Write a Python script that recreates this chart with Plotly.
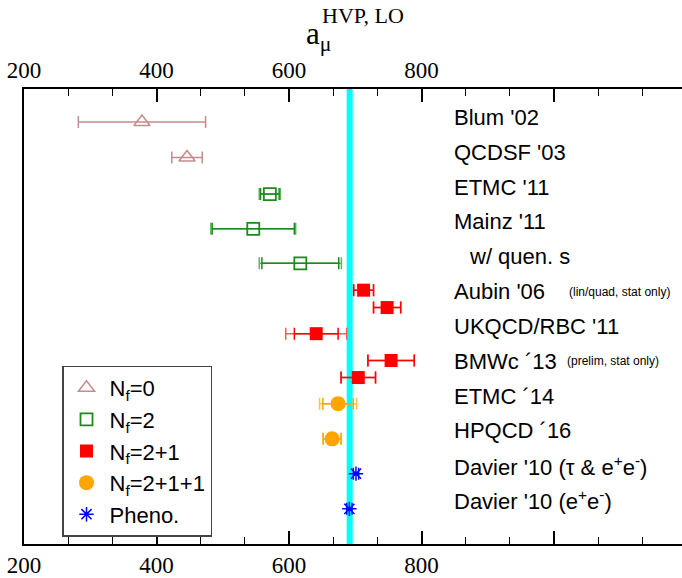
import plotly.graph_objects as go

# ---------------- data ----------------
nf0_x = [378, 446]
nf0_y = [1.13, 2.15]
nf0_err = [96, 23]

nf2_x = [571, 546, 617]
nf2_y = [3.20, 4.20, 5.19]
nf2_err_tot = [16, 64, 62]
nf2_err_stat = [14, 62, 58]

nf21_x = [712.5, 748, 641, 754, 704.5]
nf21_y = [5.96, 6.46, 7.21, 7.98, 8.47]
nf21_err_tot = [15, 20.5, 46, 35, 26]
nf21_err_stat = [15, 20.5, 33, 35, 26]

nf211_x = [674, 665]
nf211_y = [9.22, 10.23]
nf211_err_tot = [28, 13.5]
nf211_err_stat = [23, 13.5]

pheno_x = [701, 691]
pheno_y = [11.23, 12.24]
pheno_err = [4, 4]

band_lo, band_hi = 687, 696

row_labels = ["Blum '02", "QCDSF '03", "ETMC '11", "Mainz '11", "w/ quen. s",
              "Aubin '06", "UKQCD/RBC '11", "BMWc ´13", "ETMC ´14", "HPQCD ´16",
              "Davier '10 (τ & e<sup>+</sup>e<sup>-</sup>)",
              "Davier '10 (e<sup>+</sup>e<sup>-</sup>)"]
row_pos = [1, 2, 3, 4, 5, 6, 7, 8, 9, 10, 11, 12]
row_x = [846, 846, 846, 846, 869, 846, 846, 846, 846, 846, 846, 846]
note_labels = ["(lin/quad, stat only)", "(prelim, stat only)"]
note_pos = [6, 8]
note_x = [1020, 1017]

tick_vals = [200, 400, 600, 800, 1000]
tick_text = ["200", "400", "600", "800", ""]

# ---------------- figure ----------------
fig = go.Figure()

def err(arr, color, w=1.5):
    return dict(type="data", array=arr, visible=True, color=color,
                thickness=w, width=6)

hidden = dict(size=1, color="rgba(0,0,0,0)")

# Nf=0
fig.add_trace(go.Scatter(
    x=nf0_x, y=nf0_y, mode="markers", name="N<sub>f</sub>=0",
    legendgroup="a",
    marker=dict(symbol="triangle-up-open", size=14, color="#c48c8c",
                line=dict(width=1.5, color="#c48c8c")),
    error_x=err(nf0_err, "#c48c8c")))

# Nf=2
fig.add_trace(go.Scatter(
    x=nf2_x, y=nf2_y, mode="markers", showlegend=False, legendgroup="b",
    marker=hidden, error_x=err(nf2_err_tot, "#5cb85c")))
fig.add_trace(go.Scatter(
    x=nf2_x, y=nf2_y, mode="markers", name="N<sub>f</sub>=2",
    legendgroup="b",
    marker=dict(symbol="square-open", size=12, color="#1a8c1a",
                line=dict(width=1.8, color="#1a8c1a")),
    error_x=err(nf2_err_stat, "#1a8c1a")))

# Nf=2+1
fig.add_trace(go.Scatter(
    x=nf21_x, y=nf21_y, mode="markers", showlegend=False, legendgroup="c",
    marker=hidden, error_x=err(nf21_err_tot, "#ff5a5a")))
fig.add_trace(go.Scatter(
    x=nf21_x, y=nf21_y, mode="markers", name="N<sub>f</sub>=2+1",
    legendgroup="c",
    marker=dict(symbol="square", size=13, color="#ff0000"),
    error_x=err(nf21_err_stat, "#ff0000")))

# Nf=2+1+1
fig.add_trace(go.Scatter(
    x=nf211_x, y=nf211_y, mode="markers", showlegend=False, legendgroup="d",
    marker=hidden, error_x=err(nf211_err_tot, "#ffc04d")))
fig.add_trace(go.Scatter(
    x=nf211_x, y=nf211_y, mode="markers", name="N<sub>f</sub>=2+1+1",
    legendgroup="d",
    marker=dict(symbol="circle", size=15, color="#ffa500"),
    error_x=err(nf211_err_stat, "#ffa500")))

# Pheno
fig.add_trace(go.Scatter(
    x=pheno_x, y=pheno_y, mode="markers", name="Pheno.",
    legendgroup="e",
    marker=dict(symbol="asterisk-open", size=12, color="#0000ff",
                line=dict(width=1.5, color="#0000ff")),
    error_x=err(pheno_err, "#0000ff")))

# hidden trace to activate the top axis
fig.add_trace(go.Scatter(x=[200, 1193], y=[0.5, 0.5], xaxis="x2",
                         mode="markers", marker=hidden, showlegend=False,
                         hoverinfo="skip"))

# cyan band
fig.add_shape(type="rect", xref="x", yref="paper", x0=band_lo, x1=band_hi,
              y0=0, y1=1, fillcolor="#00ffff", line=dict(width=0),
              layer="below")

# row labels
for t, p, xx in zip(row_labels, row_pos, row_x):
    fig.add_annotation(x=xx, y=p, xref="x", yref="y", text=t,
                       showarrow=False, xanchor="left", yanchor="middle",
                       font=dict(family="Liberation Sans", size=22,
                                 color="black"))
for t, p, xx in zip(note_labels, note_pos, note_x):
    fig.add_annotation(x=xx, y=p, xref="x", yref="y", text=t,
                       showarrow=False, xanchor="left", yanchor="middle",
                       font=dict(family="Liberation Sans", size=12,
                                 color="black"))

# axis title
fig.add_annotation(x=(304 - 24) / 658, y=1 + (89 - 35) / 464, xref="paper",
                   yref="paper", text="a<sub>μ</sub>", showarrow=False,
                   xanchor="left", yanchor="middle",
                   font=dict(family="Liberation Serif", size=31, color="black"))
fig.add_annotation(x=(363 - 24) / 658, y=1 + (89 - 14) / 464, xref="paper",
                   yref="paper", text="HVP, LO", showarrow=False,
                   xanchor="center", yanchor="middle",
                   font=dict(family="Liberation Serif", size=22, color="black"))

axis_common = dict(
    range=[200, 1193], tickmode="array", tickvals=tick_vals,
    ticktext=tick_text, ticks="inside", ticklen=13, tickwidth=1.5,
    tickcolor="black", showline=True, linecolor="black", linewidth=1.5,
    showgrid=False, zeroline=False,
    tickfont=dict(family="Liberation Serif", size=23, color="black"),
    minor=dict(tickmode="linear", tick0=200, dtick=200 / 3, ticks="inside",
               ticklen=7, tickwidth=1.2, tickcolor="black", showgrid=False),
)

fig.update_layout(
    width=682, height=578,
    margin=dict(l=24, r=0, t=89, b=25),
    paper_bgcolor="white", plot_bgcolor="white",
    xaxis=dict(**axis_common, side="bottom"),
    xaxis2=dict(**axis_common, side="top", overlaying="x", anchor="y"),
    yaxis=dict(range=[13.25, 0.183], showline=True, linecolor="black",
               linewidth=1.5, showticklabels=False, ticks="", showgrid=False,
               zeroline=False),
    legend=dict(x=(62 - 24) / 658, y=(553 - 371) / 464, xanchor="left",
                yanchor="top", bgcolor="white", bordercolor="#444",
                borderwidth=1.5, tracegroupgap=0, itemwidth=36,
                font=dict(family="Liberation Sans", size=22, color="black")),
    showlegend=True,
)

fig.write_html("out.html")
